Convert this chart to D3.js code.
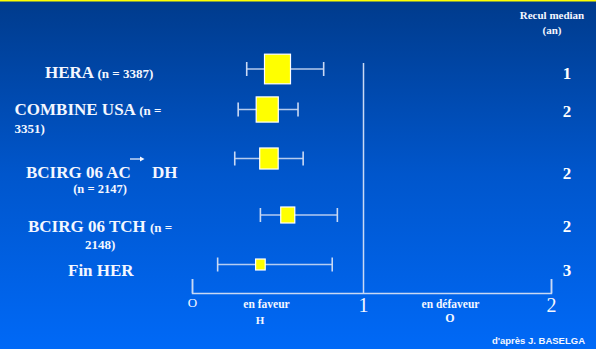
<!DOCTYPE html>
<html>
<head>
<meta charset="utf-8">
<script src="https://cdn.jsdelivr.net/npm/d3@7"></script>
<style>
  html, body { margin: 0; padding: 0; background: #0050c0; }
  svg { display: block; }
</style>
</head>
<body>
<svg id="chart" width="596" height="349"></svg>
<script>
// Études comparées (rapport de risque et intervalle de confiance)
const etudes = ["HERA", "COMBINE USA", "BCIRG 06 AC→DH", "BCIRG 06 TCH", "Fin HER"];
const effectifs = ["3387", "3351", "2147", "2148", ""];
const rapportRisque = [0.50, 0.44, 0.45, 0.56, 0.40];
const icBas = [0.32, 0.27, 0.25, 0.40, 0.15];
const icHaut = [0.77, 0.62, 0.65, 0.85, 0.82];
const poids = [100, 85, 71, 54, 37];
const reculMedian = [1, 2, 2, 2, 3];
const graduations = [0, 1, 2];
const libellesGraduations = ["O", "1", "2"];

const W = 596, H = 349;
const svg = d3.select("#chart");
const serif = "'Liberation Serif', 'Times New Roman', serif";
const sans = "'Liberation Sans', Arial, sans-serif";
const blanc = "#f4f7ff";
const trait = "#c9d9f4";

// Fond dégradé bleu
const defs = svg.append("defs");
const grad = defs.append("linearGradient")
  .attr("id", "fond").attr("x1", 0).attr("y1", 0).attr("x2", 0).attr("y2", 1);
grad.append("stop").attr("offset", "0%").attr("stop-color", "#003b8c");
grad.append("stop").attr("offset", "50%").attr("stop-color", "#0056cc");
grad.append("stop").attr("offset", "100%").attr("stop-color", "#0069f7");
svg.append("rect").attr("width", W).attr("height", H).attr("fill", "url(#fond)");
svg.append("rect").attr("width", W).attr("height", 1.5).attr("fill", "#ffff00");

// Échelles
const x = d3.scaleLinear().domain([0, 1, 2]).range([192, 363, 551]);
const y = d3.scaleOrdinal().domain(etudes).range([69, 109.5, 158.5, 215, 264.5]);
const taille = d3.scaleLinear().domain([0, 100]).range([0, 26]);
const yAxe = 293;

// Axe horizontal
const axe = d3.axisBottom(x)
  .tickValues(graduations)
  .tickSize(-14)
  .tickFormat((d, i) => libellesGraduations[i]);
const gAxe = svg.append("g").attr("transform", `translate(0,${yAxe})`).call(axe);
gAxe.select(".domain").attr("stroke", trait).attr("stroke-width", 1.5);
gAxe.selectAll(".tick line").attr("stroke", trait).attr("stroke-width", 1.5);
gAxe.selectAll(".tick").filter(d => d === 1).select("line").attr("y2", -230);
gAxe.selectAll(".tick text")
  .attr("fill", blanc)
  .attr("font-family", serif)
  .attr("dy", null)
  .attr("y", d => d === 0 ? 13.7 : 19)
  .attr("font-size", d => d === 0 ? 13 : 20);

// Intervalles de confiance
const lignes = svg.append("g");
etudes.forEach((e, i) => {
  const yy = y(e);
  lignes.append("line")
    .attr("x1", x(icBas[i])).attr("x2", x(icHaut[i]))
    .attr("y1", yy).attr("y2", yy)
    .attr("stroke", trait).attr("stroke-width", 1.6).attr("opacity", 0.9);
  [icBas[i], icHaut[i]].forEach(v => {
    lignes.append("line")
      .attr("x1", x(v)).attr("x2", x(v))
      .attr("y1", yy - 7).attr("y2", yy + 7)
      .attr("stroke", trait).attr("stroke-width", 1.6);
  });
});

// Carrés : rapport de risque
svg.append("g").selectAll("rect")
  .data(etudes)
  .join("rect")
  .attr("x", (e, i) => x(rapportRisque[i]) - taille(poids[i]) / 2)
  .attr("y", (e, i) => y(e) - taille(poids[i]) * 1.14 / 2)
  .attr("width", (e, i) => taille(poids[i]))
  .attr("height", (e, i) => taille(poids[i]) * 1.14)
  .attr("fill", "#ffff00")
  .attr("stroke", "#ffffff")
  .attr("stroke-width", 1.2);

// Libellés des études
const libelles = svg.append("g").attr("fill", blanc).attr("font-family", serif).attr("font-weight", "bold");
function ligne(txt, px, py, fs, anchor) {
  return libelles.append("text").attr("x", px).attr("y", py)
    .attr("font-size", fs).attr("text-anchor", anchor || "start").text(txt);
}
let t = ligne("HERA ", 45, 78, 17);
t.append("tspan").attr("font-size", 13).text(`(n = ${effectifs[0]})`);
t = ligne("COMBINE USA ", 14.5, 115, 17);
t.append("tspan").attr("font-size", 13).text("(n =");
ligne(`${effectifs[1]})`, 14.5, 133, 13);
ligne("BCIRG 06 AC", 26, 177.5, 17);
ligne("DH", 152, 177.5, 17);
ligne(`(n = ${effectifs[2]})`, 100, 193, 12.5, "middle");
t = ligne("BCIRG 06 TCH ", 28, 231.5, 17);
t.append("tspan").attr("font-size", 13).text("(n =");
ligne(`${effectifs[3]})`, 85, 249, 13);
ligne(etudes[4], 68, 275.5, 17);

// Petite flèche AC → DH
libelles.append("line").attr("x1", 130).attr("x2", 141).attr("y1", 159).attr("y2", 159)
  .attr("stroke", blanc).attr("stroke-width", 1.2);
libelles.append("path").attr("d", "M140,156.5 L144.5,159 L140,161.5 Z").attr("fill", blanc);

// Recul médian
const colR = svg.append("g").attr("fill", blanc).attr("font-family", serif).attr("font-weight", "bold")
  .attr("text-anchor", "middle");
colR.append("text").attr("x", 552).attr("y", 18.5).attr("font-size", 11).text("Recul median");
colR.append("text").attr("x", 552).attr("y", 33.5).attr("font-size", 11).text("(an)");
const baselinesR = [79, 117, 179, 232, 276];
colR.selectAll("text.recul")
  .data(reculMedian)
  .join("text")
  .attr("class", "recul")
  .attr("x", 567)
  .attr("y", (d, i) => baselinesR[i])
  .attr("font-size", 17)
  .attr("fill", "#ffffff")
  .text(d => d);

// Sens de l'effet
const sens = svg.append("g").attr("fill", blanc).attr("font-family", serif).attr("font-weight", "bold")
  .attr("text-anchor", "middle");
sens.append("text").attr("x", 266.5).attr("y", 307.5).attr("font-size", 11.5).text("en faveur");
sens.append("text").attr("x", 260).attr("y", 324).attr("font-size", 11).text("H");
sens.append("text").attr("x", 450.5).attr("y", 307.5).attr("font-size", 11.5).text("en défaveur");
sens.append("text").attr("x", 450).attr("y", 321.5).attr("font-size", 12).text("O");

// Source
svg.append("text").attr("x", 585).attr("y", 344).attr("text-anchor", "end")
  .attr("font-family", sans).attr("font-weight", "bold").attr("font-size", 9.5)
  .attr("fill", blanc).text("d'après J. BASELGA");
</script>
</body>
</html>
